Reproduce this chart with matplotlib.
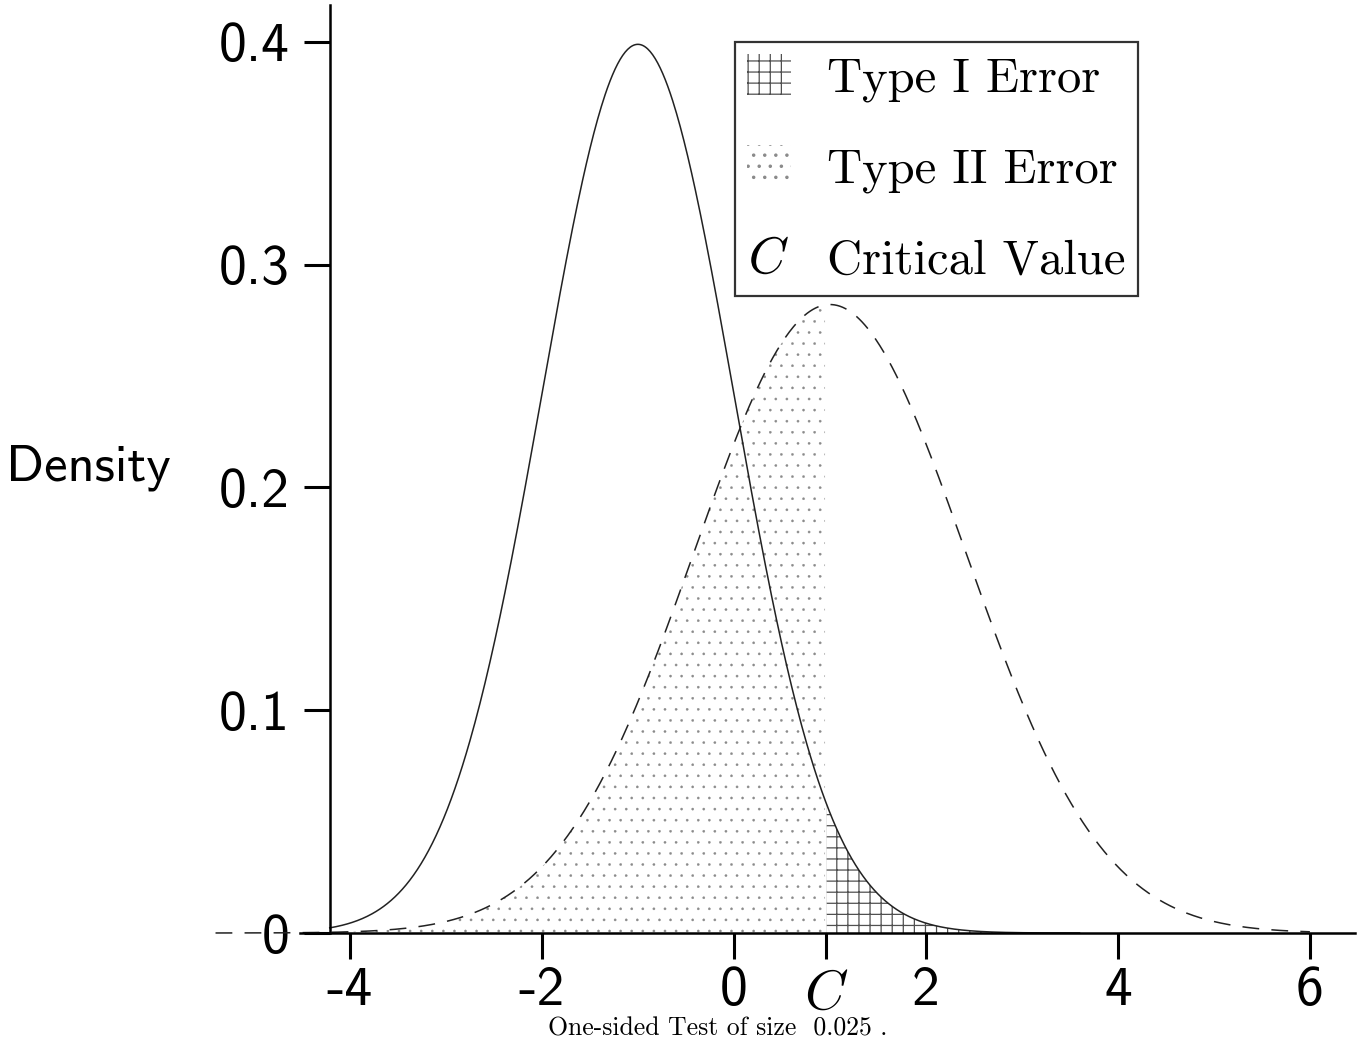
import numpy as np
import matplotlib
matplotlib.use("Agg")
import matplotlib.pyplot as plt
from matplotlib.patches import Patch
from matplotlib.lines import Line2D

DPI = 133
K = 100.0 / DPI   # convert sizes designed at 100 dpi

plt.rcParams['axes.unicode_minus'] = False
plt.rcParams['mathtext.fontset'] = 'cm'

# ---- data ----
means = [-1.0, 1.0]            # null (solid), alternative (dashed)
sds = [1.0, 1.414]
critical_value = 0.96
test_size = 0.025
null_range = [-4.21, 3.6]
alt_range = [-5.4, 6.0]
xticks = [-4, -2, 0, critical_value, 2, 4, 6]
xtick_labels = ['-4', '-2', '0', r'$C$', '2', '4', '6']
yticks = [0, 0.1, 0.2, 0.3, 0.4]
ytick_labels = ['0', '0.1', '0.2', '0.3', '0.4']
legend_labels = ['Type I Error', 'Type II Error', 'Critical Value']


def pdf(x, m, s):
    return np.exp(-0.5 * ((x - m) / s) ** 2) / (s * np.sqrt(2 * np.pi))


fig = plt.figure(figsize=(1358 / DPI, 1042 / DPI), dpi=DPI)
ax = fig.add_axes([300 / 1358, 1 - 933 / 1042, 1055 / 1358, 928 / 1042])
ax.set_xlim(-4.52, 6.47)
ax.set_ylim(0, 0.4166)

x0 = np.linspace(null_range[0], null_range[1], 600)
x1 = np.linspace(alt_range[0], alt_range[1], 800)
y0 = pdf(x0, means[0], sds[0])
y1 = pdf(x1, means[1], sds[1])

DOT_COLOR = '#8a8a8a'
GRID_COLOR = '#505050'

# Type II region (under alternative, left of C)
plt.rcParams['hatch.linewidth'] = 0.25 * K
m2 = (x1 <= critical_value) & (x1 >= null_range[0])
ax.fill_between(x1[m2], 0, y1[m2], facecolor='none', edgecolor=DOT_COLOR,
                hatch='..', linewidth=0)
leg_dots = Patch(facecolor='none', edgecolor=DOT_COLOR, hatch='..', linewidth=0)

# Type I region (under null, right of C)
plt.rcParams['hatch.linewidth'] = 0.9 * K
m1 = x0 >= critical_value
ax.fill_between(x0[m1], 0, y0[m1], facecolor='none', edgecolor=GRID_COLOR,
                hatch='++', linewidth=0)
leg_grid = Patch(facecolor='none', edgecolor=GRID_COLOR, hatch='++', linewidth=0)

ax.plot(x0, y0, color='#222222', lw=1.1 * K)
ax.plot(x1, y1, color='#222222', lw=1.1 * K, ls=(0, (11, 8)), clip_on=False)

for s in ['top', 'right']:
    ax.spines[s].set_visible(False)
ax.spines['left'].set_position(('data', -4.21))
ax.spines['left'].set_linewidth(1.8 * K)
ax.spines['bottom'].set_linewidth(1.8 * K)

ax.set_xticks(xticks)
ax.set_xticklabels(xtick_labels)
ax.set_yticks(yticks)
ax.set_yticklabels(ytick_labels)
ax.tick_params(axis='both', direction='out', length=19 * K, width=2.2 * K,
               labelsize=40 * K)
ax.tick_params(axis='x', pad=5 * K)
ax.tick_params(axis='y', pad=10 * K)
for lab in ax.get_xticklabels() + ax.get_yticklabels():
    if lab.get_text() != r'$C$':
        lab.set_fontfamily('cmss10')

fig.text(88 / 1358, 1 - 468 / 1042, 'Density', family='cmss10', fontsize=38 * K,
         ha='center', va='center')
fig.text(718 / 1358, 1 - 1029 / 1042, 'One-sided Test of size  %s .' % test_size,
         family='cmr10', fontsize=18.5 * K, ha='center', va='center')

handles = [
    leg_grid,
    leg_dots,
    Line2D([], [], ls='none', marker=r'$C$', markersize=27 * K, color='black',
           markeredgewidth=0),
]
leg = ax.legend(handles, legend_labels, loc='upper left',
                bbox_to_anchor=(735 / 1358, 1 - 42 / 1042),
                bbox_transform=fig.transFigure, borderaxespad=0,
                prop={'family': 'cmr10', 'size': 35 * K}, frameon=True,
                fancybox=False, handlelength=0.9, handletextpad=0.75,
                labelspacing=0.9, borderpad=0.25, handleheight=0.9)
leg.get_frame().set_edgecolor('black')
leg.get_frame().set_linewidth(1.6 * K)

fig.savefig('out.png', dpi=DPI)
